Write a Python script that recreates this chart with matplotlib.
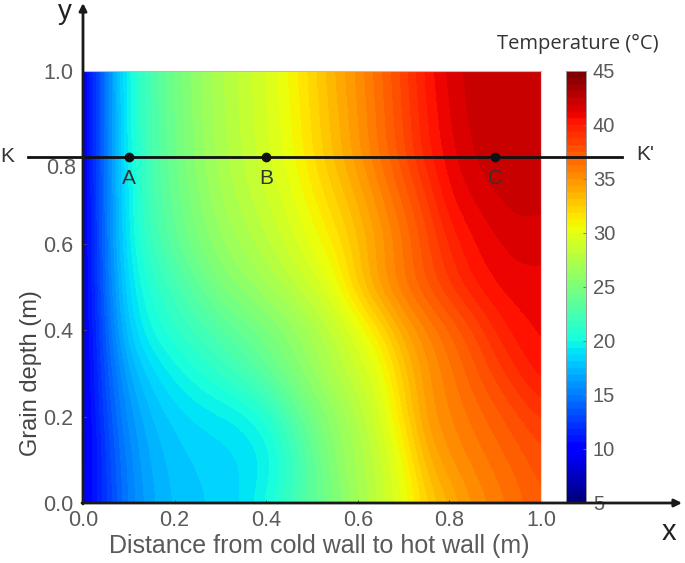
import matplotlib
matplotlib.use("Agg")
import matplotlib.pyplot as plt
import numpy as np

W, H = 685, 563

# temperature field read from the colours, rows run from y=0 up to y=1
# columns are x = 0.00, 0.05, ... 1.00
x_pos = [0.00, 0.05, 0.10, 0.15, 0.20, 0.25, 0.30, 0.35, 0.40, 0.45, 0.50,
         0.55, 0.60, 0.65, 0.70, 0.75, 0.80, 0.85, 0.90, 0.95, 1.00]
y_pos = [0.0, 0.1, 0.2, 0.3, 0.4, 0.5, 0.6, 0.7, 0.8, 0.9, 1.0]
temps = [
    [9.5, 12.3, 15.2, 16.8, 17.6, 18.0, 18.3, 18.8, 20.2, 21.8, 23.4, 25.0, 26.7, 28.4, 30.0, 32.3, 33.7, 35.0, 35.8, 36.6, 37.4],
    [9.0, 12.5, 15.5, 17.0, 17.8, 18.2, 18.4, 18.7, 19.3, 21.2, 23.4, 25.6, 27.1, 28.5, 30.6, 33.6, 35.0, 35.8, 36.5, 37.2, 37.9],
    [9.0, 13.0, 16.0, 17.5, 18.3, 18.8, 19.1, 19.5, 20.6, 22.6, 24.6, 26.0, 27.5, 29.3, 32.0, 34.7, 35.6, 36.4, 37.2, 38.0, 38.8],
    [9.0, 13.5, 16.8, 18.5, 19.6, 20.5, 21.4, 22.4, 23.6, 25.0, 26.2, 27.5, 28.8, 30.0, 32.8, 34.8, 36.0, 37.2, 38.3, 39.4, 40.4],
    [9.0, 14.0, 18.3, 20.2, 21.2, 22.1, 23.0, 23.9, 24.8, 25.8, 27.0, 28.3, 29.7, 31.8, 34.1, 35.5, 36.8, 38.0, 39.4, 40.4, 40.8],
    [9.0, 14.5, 19.0, 20.8, 22.2, 23.6, 25.0, 25.9, 26.8, 27.8, 28.9, 30.2, 32.8, 34.9, 36.3, 37.6, 38.8, 39.9, 40.7, 41.0, 40.9],
    [9.0, 14.8, 19.5, 22.0, 23.6, 25.0, 26.2, 27.1, 28.0, 29.0, 30.1, 31.4, 33.0, 34.6, 36.2, 37.9, 39.4, 40.6, 41.1, 41.5, 41.6],
    [9.0, 14.9, 19.7, 22.4, 24.0, 25.5, 26.8, 27.8, 28.7, 29.7, 31.0, 32.4, 33.8, 35.4, 37.0, 38.6, 40.6, 41.2, 41.8, 42.2, 42.0],
    [9.0, 15.0, 19.9, 22.6, 24.3, 25.9, 27.2, 28.2, 29.2, 30.3, 31.8, 33.3, 34.8, 36.4, 38.0, 39.8, 41.0, 41.9, 42.4, 42.4, 42.1],
    [9.0, 15.0, 20.0, 22.6, 24.4, 26.0, 27.3, 28.3, 29.3, 30.5, 32.0, 33.5, 35.0, 36.6, 38.2, 40.0, 41.3, 42.1, 42.4, 42.3, 42.0],
    [9.0, 15.0, 20.2, 22.7, 24.5, 26.1, 27.4, 28.4, 29.4, 30.7, 32.2, 33.8, 35.2, 36.8, 38.4, 40.3, 41.5, 42.2, 42.4, 42.2, 41.8],
]
x_ticks = [0.0, 0.2, 0.4, 0.6, 0.8, 1.0]
y_ticks = [0.0, 0.2, 0.4, 0.6, 0.8, 1.0]
cbar_ticks = [5, 10, 15, 20, 25, 30, 35, 40, 45]

point_names = ["A", "B", "C"]
point_x = [0.1, 0.4, 0.9]
point_y = [0.8, 0.8, 0.8]

GREY = "#5a5a5a"
plt.rcParams["font.family"] = ["Liberation Sans", "DejaVu Sans"]
JET = plt.get_cmap("jet", 64)


def box(left, top, right, bottom):
    return [left / W, 1 - bottom / H, (right - left) / W, (bottom - top) / H]


fig = plt.figure(figsize=(W / 100, H / 100), dpi=100)

# ── Main temperature map ──────────────────────────────────────────────────
ax = fig.add_axes(box(83, 71, 541, 503), zorder=3)
ax.patch.set_alpha(0)
dx = x_pos[1] - x_pos[0]
dy = y_pos[1] - y_pos[0]
ax.imshow(temps, origin="lower", aspect="auto", cmap=JET, vmin=5, vmax=45,
          interpolation="bicubic", interpolation_stage="data",
          extent=[x_pos[0] - dx / 2, x_pos[-1] + dx / 2, y_pos[0] - dy / 2, y_pos[-1] + dy / 2])
ax.set_xlim(0, 1)
ax.set_ylim(0, 1)
ax.set_xticks(x_ticks)
ax.set_yticks(y_ticks)
ax.set_xticklabels([f"{t:.1f}" for t in x_ticks], fontsize=15.5, color=GREY)
# the 0.8 label sits just under the section line, so it is placed by hand below
ax.set_yticklabels([f"{t:.1f}" if t != 0.8 else "" for t in y_ticks], fontsize=15.5, color=GREY)
ax.tick_params(axis="both", direction="in", length=2, width=0.7, color="#555555")
ax.tick_params(axis="x", pad=5)
ax.tick_params(axis="y", pad=7)
ax.spines[["left", "bottom"]].set_visible(False)
ax.spines["top"].set_color("#bbbbbb")
ax.spines["right"].set_color("#dddddd")
ax.set_xlabel("Distance from cold wall to hot wall (m)", fontsize=18, color=GREY)
ax.xaxis.set_label_coords(0.515, -0.072)
ax.set_ylabel("Grain depth (m)", fontsize=17, color="#444444")
ax.yaxis.set_label_coords(-0.089, 0.30)

# K-K' section line with its three points
ax.plot([-0.12, 1.177], [0.801, 0.801], color="#111111", lw=2, clip_on=False, zorder=6)
ax.plot(point_x, point_y, "o", color="#111111", ms=6, clip_on=False, zorder=7)
for name, px, py in zip(point_names, point_x, point_y):
    ax.text(px, py - 0.05, name, ha="center", va="center", fontsize=15, color="#333333", zorder=7)

# ── Colour bar ────────────────────────────────────────────────────────────
cax = fig.add_axes(box(566, 71, 586, 503), zorder=1)
gradient = np.linspace(5, 45, 256).reshape(-1, 1)
cax.imshow(gradient, origin="lower", aspect="auto", cmap=JET, vmin=5, vmax=45,
           extent=[0, 1, 5, 45])
cax.set_xticks([])
cax.yaxis.tick_right()
cax.set_yticks(cbar_ticks)
cax.set_yticklabels(cbar_ticks, fontsize=14.5, color=GREY)
cax.tick_params(axis="y", direction="in", length=2, width=0.7, color="#777777", pad=5)
for s in cax.spines.values():
    s.set_color("#999999")
    s.set_linewidth(0.7)

# ── Hand-drawn axes, arrows and loose labels, in pixel coordinates ────────
over = fig.add_axes([0, 0, 1, 1], zorder=5)
over.set_xlim(0, W)
over.set_ylim(H, 0)
over.axis("off")
arrow = dict(arrowstyle="-|>", color="#1a1a1a", lw=2, mutation_scale=11, shrinkA=0, shrinkB=0)
over.annotate("", xy=(83, 3), xytext=(83, 504), arrowprops=arrow)
over.annotate("", xy=(682, 503), xytext=(82, 503), arrowprops=arrow)
over.text(65, 12, "y", ha="center", va="center", fontsize=20, color="#222222")
over.text(669, 532, "x", ha="center", va="center", fontsize=21, color="#222222")
over.text(7, 157, "K", ha="center", va="center", fontsize=15, color="#333333")
over.text(645, 155, "K'", ha="center", va="center", fontsize=15, color="#333333")
over.text(76, 168, "0.8", ha="right", va="center", fontsize=15.5, color=GREY)
over.text(578, 44, "Temperature (\N{DEGREE SIGN}C)", ha="center", va="center",
          fontsize=14.5, color="#333333", family=["Open Sans", "DejaVu Sans"])

fig.savefig("out.png", dpi=100)
